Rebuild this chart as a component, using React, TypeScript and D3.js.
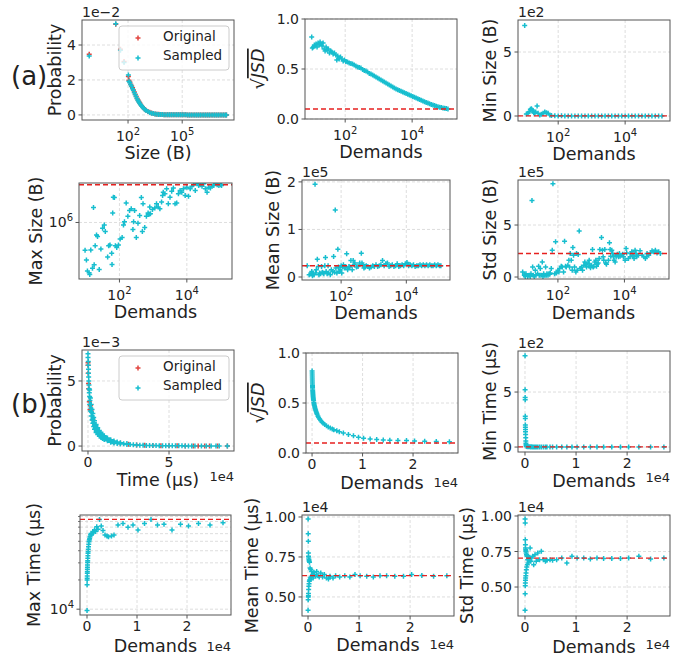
import React from 'react';
import * as d3 from 'd3';

// ---------- (a) size trace ----------
// log10 of request size in bytes, with probability of the original and sampled trace
const sizeLog10 = [
  -0.15, 1.32, 1.58, 1.78, 2.02,
  2.05, 2.1, 2.15, 2.2, 2.25, 2.3, 2.35, 2.4, 2.45, 2.5, 2.55, 2.6, 2.65, 2.7, 2.75, 2.8, 2.85, 2.9, 2.95, 3.0,
  3.1, 3.2, 3.3, 3.4, 3.5, 3.6, 3.7, 3.8, 3.9, 4.0,
  4.1, 4.2, 4.3, 4.4, 4.5, 4.6, 4.7, 4.8, 4.9, 5.0, 5.1, 5.2, 5.3, 5.4, 5.5, 5.6, 5.7, 5.8, 5.9, 6.0,
  6.1, 6.2, 6.3, 6.4, 6.5, 6.6, 6.7, 6.8, 6.9, 7.0, 7.1, 7.2, 7.3, 7.4, 7.45,
];
const sizeProbOriginal = [
  0.0347, 0.0518, 0.0375, 0.0305, 0.0220,
  0.0198, 0.0188, 0.0176, 0.0166, 0.0155, 0.0143, 0.0131, 0.0119, 0.0107, 0.0096, 0.0086, 0.0077, 0.0068, 0.0060, 0.0053, 0.0047, 0.0041, 0.0036, 0.0031, 0.0027,
  0.0020, 0.0015, 0.0011, 0.0008, 0.0006, 0.00045, 0.00035, 0.00025, 0.0002, 0.00015,
  0.00012, 0.0001, 0.00009, 0.00008, 0.00007, 0.00006, 0.00006, 0.00005, 0.00005, 0.00004, 0.00004, 0.00004, 0.00003, 0.00003, 0.00003, 0.00003, 0.00002, 0.00002, 0.00002, 0.00002,
  0.00002, 0.00002, 0.00001, 0.00001, 0.00001, 0.00001, 0.00001, 0.00001, 0.00001, 0.00001, 0.00001, 0.00001, 0.00001, 0.00001, 0.00001,
];
const sizeProbSampled = [
  0.0337, 0.0522, 0.0370, 0.0300, 0.0228,
  0.0192, 0.0184, 0.0172, 0.0162, 0.0150, 0.0140, 0.0127, 0.0115, 0.0104, 0.0093, 0.0083, 0.0074, 0.0066, 0.0058, 0.0051, 0.0045, 0.0039, 0.0034, 0.0030, 0.0026,
  0.0019, 0.0014, 0.0010, 0.0008, 0.0006, 0.0004, 0.0003, 0.00025, 0.0002, 0.00015,
  0.00012, 0.0001, 0.00009, 0.00008, 0.00007, 0.00006, 0.00006, 0.00005, 0.00005, 0.00004, 0.00004, 0.00004, 0.00003, 0.00003, 0.00003, 0.00003, 0.00002, 0.00002, 0.00002, 0.00002,
  0.00002, 0.00002, 0.00001, 0.00001, 0.00001, 0.00001, 0.00001, 0.00001, 0.00001, 0.00001, 0.00001, 0.00001, 0.00001, 0.00001, 0.00001,
];

// sqrt(JSD) against log10(demands)
const jsdSizeDemandLog10 = [
  1.0, 1.02, 1.05, 1.08, 1.1, 1.13, 1.16, 1.19, 1.22, 1.25, 1.28, 1.31, 1.34, 1.37, 1.4, 1.43, 1.46, 1.5, 1.53, 1.57,
  1.6, 1.64, 1.68, 1.72, 1.75, 1.78, 1.82, 1.86, 1.9, 1.94, 1.98,
  2.02, 2.07, 2.12, 2.17, 2.22, 2.27, 2.32, 2.37, 2.42, 2.47, 2.52, 2.57, 2.62, 2.67, 2.72, 2.77, 2.82, 2.87, 2.92, 2.97,
  3.02, 3.07, 3.12, 3.17, 3.22, 3.27, 3.32, 3.37, 3.42, 3.47, 3.52, 3.57, 3.62, 3.67, 3.72, 3.77, 3.82, 3.87, 3.92, 3.97,
  4.02, 4.07, 4.12, 4.17, 4.22, 4.27, 4.32, 4.37, 4.42, 4.47, 4.52, 4.57, 4.62, 4.67, 4.72, 4.77, 4.82, 4.87, 4.92, 4.97,
  5.02, 5.07,
];
const jsdSize = [
  0.82, 0.71, 0.72, 0.74, 0.73, 0.75, 0.72, 0.76, 0.74, 0.77, 0.75, 0.73, 0.76, 0.70, 0.68, 0.72, 0.69, 0.70, 0.66, 0.68,
  0.67, 0.65, 0.66, 0.64, 0.59, 0.63, 0.60, 0.62, 0.60, 0.58, 0.59,
  0.575, 0.57, 0.56, 0.555, 0.55, 0.54, 0.53, 0.52, 0.515, 0.51, 0.495, 0.485, 0.48, 0.47, 0.455, 0.45, 0.44, 0.43, 0.42, 0.41,
  0.40, 0.39, 0.38, 0.37, 0.36, 0.35, 0.34, 0.33, 0.32, 0.31, 0.30, 0.292, 0.285, 0.277, 0.27, 0.262, 0.255, 0.247, 0.24, 0.232,
  0.225, 0.217, 0.21, 0.202, 0.195, 0.188, 0.18, 0.173, 0.166, 0.16, 0.153, 0.146, 0.14, 0.134, 0.128, 0.123, 0.118, 0.114, 0.11, 0.107,
  0.104, 0.1,
];

// Min size (B) against log10(demands)
const minSizeDemandLog10 = [
  1.0, 1.05, 1.1, 1.13, 1.17, 1.2, 1.23, 1.27, 1.3, 1.33, 1.37, 1.4, 1.45, 1.5, 1.55, 1.6, 1.65, 1.7, 1.75,
  1.8, 1.9, 2.0, 2.1, 2.2, 2.3, 2.4, 2.5, 2.6, 2.7, 2.8, 2.9, 3.0, 3.1, 3.2, 3.3, 3.4, 3.5, 3.6, 3.7,
  3.8, 3.9, 4.0, 4.1, 4.2, 4.3, 4.4, 4.5, 4.6, 4.7, 4.8, 4.9, 5.0, 5.1,
];
const minSize = [
  707, 16, 21, 34, 52, 57, 47, 26, 21, 31, 78, 21, 8, 14, 21, 31, 26, 21, 8,
  3, 2, 1, 2, 1, 1, 1, 1, 1, 1, 1, 1, 1, 1, 1, 1, 1, 1, 1, 1,
  1, 1, 1, 1, 1, 1, 1, 1, 1, 1, 1, 1, 1, 1,
];

// Max size: [log10(demands), log10(bytes)]
const maxSizePoints = [
  [0.98, 5.33], [1.02, 5.10], [1.05, 4.83], [1.10, 4.79], [1.12, 4.75], [1.15, 5.34], [1.20, 4.90], [1.23, 6.36],
  [1.25, 4.98], [1.28, 5.44], [1.32, 5.70], [1.35, 5.66], [1.40, 4.87], [1.45, 5.36], [1.50, 5.86], [1.55, 5.94],
  [1.58, 5.78], [1.65, 5.17], [1.68, 5.44], [1.72, 5.46], [1.77, 5.26], [1.78, 4.99], [1.80, 6.23], [1.82, 6.61],
  [1.85, 6.60], [1.88, 5.44], [1.92, 5.40], [1.97, 5.46], [2.02, 5.60], [2.08, 5.64], [2.12, 5.94], [2.15, 6.02],
  [2.20, 6.47], [2.25, 6.15], [2.30, 6.29], [2.35, 6.33], [2.40, 5.83], [2.42, 6.02], [2.45, 6.29], [2.50, 5.64],
  [2.55, 5.98], [2.60, 6.17], [2.65, 6.60], [2.68, 5.78], [2.70, 6.45], [2.75, 5.88], [2.80, 6.15], [2.85, 6.23],
  [2.88, 6.20], [2.90, 6.37], [2.92, 6.21], [2.98, 6.31], [3.05, 6.35], [3.10, 6.45], [3.15, 6.37], [3.20, 6.33],
  [3.25, 6.49], [3.28, 6.65], [3.30, 6.73], [3.35, 6.69], [3.40, 6.81], [3.45, 6.45], [3.50, 6.61], [3.55, 6.75],
  [3.60, 6.83], [3.65, 6.45], [3.70, 6.47], [3.75, 6.69], [3.80, 6.77], [3.85, 6.73], [3.90, 6.81], [3.95, 6.65],
  [4.00, 6.85], [4.05, 6.63], [4.10, 6.81], [4.15, 6.87], [4.20, 6.91], [4.25, 6.77], [4.30, 6.93], [4.35, 6.89],
  [4.40, 6.91], [4.45, 6.87], [4.50, 6.93], [4.55, 6.81], [4.60, 6.73], [4.65, 6.85], [4.70, 6.83], [4.75, 6.87],
  [4.80, 6.89], [4.85, 6.93], [4.90, 6.91], [4.95, 6.89], [5.00, 6.91], [5.03, 6.89],
];

// Mean size: [log10(demands), bytes]
const meanSizePoints = [
  [0.96, 23700], [1.02, 4900], [1.07, 7000], [1.10, 11800], [1.12, 2800], [1.15, 8400], [1.17, 4900], [1.20, 195000],
  [1.22, 8400], [1.24, 15300], [1.27, 37600], [1.30, 22300], [1.32, 4900], [1.34, 8400], [1.37, 7000], [1.40, 22300],
  [1.42, 9800], [1.45, 8400], [1.47, 7000], [1.50, 23700], [1.52, 41100], [1.54, 11800], [1.57, 7000], [1.60, 23700],
  [1.62, 8400], [1.67, 4900], [1.70, 15300], [1.74, 11800], [1.77, 43200], [1.80, 9800], [1.82, 140800], [1.84, 18800],
  [1.87, 8400], [1.90, 58500], [1.92, 20900], [1.94, 11800], [1.97, 15300], [2.00, 23700], [2.02, 8400], [2.04, 22300],
  [2.07, 25800], [2.10, 18800], [2.14, 22300], [2.17, 48800], [2.20, 15300], [2.24, 22300], [2.27, 20900], [2.30, 34800],
  [2.34, 15300], [2.37, 34800], [2.40, 25800], [2.42, 29300], [2.47, 20900], [2.52, 22300], [2.57, 29300], [2.62, 50200],
  [2.64, 29300], [2.67, 25800], [2.70, 18800], [2.74, 20900], [2.77, 23700], [2.82, 22300], [2.87, 18800], [2.92, 20900],
  [2.97, 23700], [3.02, 22300], [3.07, 25800], [3.12, 22300], [3.17, 23700], [3.22, 25800], [3.27, 34800], [3.32, 23700],
  [3.37, 27900], [3.42, 29300], [3.47, 22300], [3.52, 23700], [3.57, 25800], [3.62, 22300], [3.67, 23700], [3.72, 27900],
  [3.77, 22300], [3.82, 23700], [3.87, 25800], [3.92, 23700], [3.97, 27900], [4.02, 30700], [4.07, 23700], [4.12, 25800],
  [4.17, 23700], [4.22, 25800], [4.27, 22300], [4.32, 23700], [4.37, 23700], [4.42, 25800], [4.47, 23700], [4.52, 25800],
  [4.57, 23700], [4.62, 25800], [4.67, 23700], [4.72, 25800], [4.77, 23700], [4.82, 23700], [4.87, 25800], [4.92, 23700],
  [4.97, 25800], [5.02, 23700], [5.06, 23700],
];

// Std size: [log10(demands), bytes]
const stdSizePoints = [
  [0.94, 48000], [0.99, 16000], [1.02, 6000], [1.04, 32000], [1.09, 6000], [1.14, 16000], [1.17, 6000], [1.19, 32000],
  [1.22, 735000], [1.24, 97000], [1.26, 16000], [1.29, 6000], [1.32, 65000], [1.34, 16000], [1.39, 32000], [1.42, 103000],
  [1.44, 16000], [1.47, 81000], [1.49, 16000], [1.53, 145000], [1.55, 6000], [1.57, 32000], [1.60, 16000], [1.63, 97000],
  [1.65, 16000], [1.67, 32000], [1.70, 16000], [1.73, 32000], [1.75, 26000], [1.77, 39000], [1.80, 81000], [1.83, 258000],
  [1.85, 897000], [1.90, 32000], [1.93, 339000], [1.95, 39000], [1.97, 48000], [2.00, 65000], [2.03, 48000], [2.05, 81000],
  [2.10, 103000], [2.13, 97000], [2.17, 48000], [2.20, 345000], [2.23, 103000], [2.25, 97000], [2.30, 113000], [2.33, 161000],
  [2.35, 97000], [2.37, 226000], [2.40, 161000], [2.43, 65000], [2.45, 284000], [2.47, 210000], [2.50, 97000], [2.54, 48000],
  [2.56, 226000], [2.58, 65000], [2.61, 216000], [2.64, 442000], [2.68, 81000], [2.71, 97000], [2.74, 65000], [2.78, 113000],
  [2.81, 145000], [2.84, 123000], [2.86, 97000], [2.91, 129000], [2.94, 161000], [2.96, 103000], [2.98, 90000], [3.01, 113000],
  [3.04, 265000], [3.06, 97000], [3.08, 103000], [3.11, 145000], [3.14, 161000], [3.16, 103000], [3.18, 123000], [3.21, 135000],
  [3.24, 177000], [3.26, 265000], [3.31, 381000], [3.34, 258000], [3.36, 194000], [3.38, 161000], [3.41, 265000], [3.44, 135000],
  [3.46, 123000], [3.52, 161000], [3.55, 329000], [3.57, 265000], [3.59, 200000], [3.62, 258000], [3.65, 226000], [3.67, 194000],
  [3.69, 161000], [3.72, 145000], [3.75, 194000], [3.77, 210000], [3.79, 219000], [3.82, 194000], [3.85, 226000], [3.87, 200000],
  [3.92, 210000], [3.95, 219000], [3.97, 194000], [4.02, 161000], [4.05, 274000], [4.07, 232000], [4.12, 177000], [4.17, 194000],
  [4.19, 226000], [4.22, 242000], [4.25, 210000], [4.27, 200000], [4.29, 177000], [4.32, 258000], [4.35, 226000], [4.37, 194000],
  [4.42, 210000], [4.47, 252000], [4.53, 210000], [4.58, 194000], [4.63, 177000], [4.66, 194000], [4.68, 226000], [4.73, 210000],
  [4.78, 232000], [4.83, 252000], [4.88, 242000], [4.93, 258000], [4.98, 232000], [5.03, 242000], [5.08, 226000],
];

// ---------- (b) time trace ----------
// [time µs, probability]
const timeOriginalPts = [
  [0, 0.0064], [0, 0.0062], [100, 0.0056], [300, 0.0048], [400, 0.0044], [800, 0.0034], [1200, 0.0028], [1500, 0.0031],
  [2000, 0.0027], [3000, 0.002], [4000, 0.0016], [5000, 0.0013], [6000, 0.0011], [8000, 0.00085], [10000, 0.00065],
  [12000, 0.0005], [14000, 0.00038], [16000, 0.0003], [20000, 0.00021], [25000, 0.00014], [30000, 0.00008], [35000, 0.000055],
  [40000, 0.00004], [45000, 0.00003], [50000, 0.00002], [55000, 0.000017], [60000, 0.000012], [65000, 0.00001],
  [68000, 0.000008], [72000, 0.000005], [75000, 0.000005], [80000, 0.000004], [86000, 0.000003],
];
const timeSampledPts = [
  [0, 0.0071], [0, 0.0068], [200, 0.0065], [200, 0.0062], [300, 0.0059], [300, 0.0056], [400, 0.0053], [500, 0.0050],
  [600, 0.0047], [700, 0.0044], [800, 0.0041], [1000, 0.0038], [1200, 0.0035], [1500, 0.0032], [1800, 0.0029], [2200, 0.0026],
  [2600, 0.0023], [3000, 0.00205], [3500, 0.0018], [4000, 0.00155], [4500, 0.0014], [5000, 0.0013], [5500, 0.00118],
  [6000, 0.0011], [7000, 0.00097], [8000, 0.00085], [9000, 0.00075], [10000, 0.00065], [11000, 0.00057], [12000, 0.0005],
  [13000, 0.00043], [14000, 0.00038], [15000, 0.00034], [16000, 0.0003], [18000, 0.00025], [20000, 0.00021], [22000, 0.00018],
  [24000, 0.00015], [26000, 0.00012], [28000, 0.0001], [30000, 0.00008], [32000, 0.00007], [34000, 0.00006], [36000, 0.00005],
  [38000, 0.000045], [40000, 0.00004], [42000, 0.000035], [44000, 0.00003], [46000, 0.00003], [48000, 0.000025],
  [50000, 0.00002], [52000, 0.00002], [54000, 0.00002], [56000, 0.000015], [58000, 0.000015], [60000, 0.00001],
  [62000, 0.00001], [64000, 0.00001], [66000, 0.00001], [70000, 0.000005], [73000, 0.000005], [76000, 0.000005],
  [79000, 0.000005], [81000, 0.000005], [86000, 0.000003],
  [1000, 0.0043], [1500, 0.0037], [2000, 0.0032], [2500, 0.0028], [3000, 0.0025], [3500, 0.0022], [4000, 0.00195],
  [5000, 0.00165], [6000, 0.0014], [7000, 0.0012], [8000, 0.00105], [9000, 0.00092], [10000, 0.0008], [12000, 0.00062],
  [14000, 0.00048], [16000, 0.00038], [18000, 0.00031], [20000, 0.00026], [24000, 0.00019],
  [1000, 0.0032], [1500, 0.0027], [2000, 0.0023], [2500, 0.002], [3000, 0.00175], [3500, 0.0015], [4000, 0.0013],
  [5000, 0.00105], [6000, 0.00088], [7000, 0.00076], [8000, 0.00066], [9000, 0.00058], [10000, 0.0005], [12000, 0.0004],
  [14000, 0.0003], [16000, 0.00024], [18000, 0.0002], [20000, 0.00016], [24000, 0.00011],
];

// demands at which the time metrics were evaluated
const timeDemands = [
  10, 20, 30, 40, 50, 60, 70, 80, 90, 100, 120, 140, 160, 180, 200, 230, 260, 300, 350, 400, 460, 530, 610, 700, 800, 900,
  1000, 1150, 1300, 1500, 1700, 1950, 2200, 2500, 2850, 3200, 3600, 4000,
  4300, 4900, 5400, 6200, 7200, 8200, 9200, 10200, 11500, 12800, 14100, 15400, 17000, 18700, 20300, 22300, 24600, 27200,
];
const jsdTime = [
  0.82, 0.80, 0.78, 0.76, 0.74, 0.72, 0.70, 0.68, 0.665, 0.65, 0.63, 0.615, 0.60, 0.585, 0.57, 0.555, 0.54, 0.525, 0.505, 0.49, 0.475, 0.46, 0.445, 0.43, 0.415, 0.40,
  0.387, 0.37, 0.355, 0.34, 0.325, 0.31, 0.297, 0.285, 0.272, 0.26, 0.25, 0.24,
  0.233, 0.222, 0.212, 0.199, 0.184, 0.172, 0.158, 0.147, 0.141, 0.135, 0.131, 0.128, 0.125, 0.124, 0.121, 0.118, 0.115, 0.113,
];
const minTime = [
  830, 520, 450, 430, 280, 260, 200, 180, 160, 140, 115, 85, 55, 35, 20, 12, 8, 6, 5, 4, 3, 3, 2, 2, 2, 2,
  2, 1, 2, 1, 1, 1, 1, 1, 1, 1, 1, 1,
  1, 1, 1, 1, 1, 1, 1, 1, 1, 1, 1, 1, 1, 1, 1, 1, 1, 1,
];
const maxTime = [
  9700, 17800, 20000, 20800, 22000, 23400, 24400, 25800, 27000, 28500, 30200, 31600, 33400, 35400, 37600, 39200, 41500, 44000, 46600, 49500, 51500, 53600, 55700, 58000, 60300, 58000,
  60300, 63000, 61500, 65300, 63000, 70700, 66500, 84100, 71800, 64500, 58100, 56600,
  55700, 56600, 58100, 73500, 76500, 69600, 73500, 65300, 76500, 84100, 73500, 75000, 65300, 75000, 71800, 76500, 73500, 77800,
];
const meanTime = [
  4170, 9880, 4830, 8960, 5000, 8480, 5080, 7750, 5210, 7540, 5460, 7440, 5670, 7330, 5830, 7230, 5980, 7170, 6080, 6810, 6190, 6710, 6250, 6600, 6330, 6400,
  6190, 6540, 6400, 6290, 6600, 6330, 6250, 6500, 6250, 6400, 6190, 6130,
  6290, 6190, 6330, 6250, 6330, 6250, 6400, 6330, 6290, 6250, 6330, 6330, 6290, 6290, 6400, 6350, 6290, 6330,
];
const stdTime = [
  3360, 9790, 4530, 9510, 5090, 8330, 5280, 7980, 5470, 7750, 5630, 7630, 5800, 7510, 5990, 7390, 6220, 7280, 6410, 7160, 6570, 6920, 6690, 7040, 6810, 7100,
  7750, 6810, 7040, 7160, 6570, 7280, 6810, 7390, 6920, 7510, 6920, 6810,
  6880, 6920, 6880, 6920, 7040, 6690, 7160, 7040, 7040, 6970, 7040, 7000, 7000, 7000, 7040, 7160, 6970, 7040,
];

// reference (full trace) values, drawn as dashed lines
const refJsd = 0.1;
const refMinSize = 1;
const refMaxSize = 8.1e6;
const refMeanSize = 23700;
const refStdSize = 226000;
const refMinTime = 1;
const refMaxTime = 84000;
const refMeanTime = 6330;
const refStdTime = 7040;

const FONT = '"DejaVu Sans", sans-serif';
const CYAN = '#17becf';
const ORIG = '#e2453f';
const REF = '#e6201f';
const SPINE = '#555555';
const GRID = '#d6d6d6';

type Tick = { v: number; label: string; sup?: string };
type Series = { xs: number[]; ys: number[]; color: string };
type PanelDef = {
  box: [number, number, number, number];
  x: any;
  y: any;
  xTicks: Tick[];
  yTicks: Tick[];
  yMinor?: number[];
  xLabel: string;
  yLabel: string;
  sqrtLabel?: boolean;
  yLabelX: number;
  xLabelDy: number;
  xOffset?: string;
  xOffsetDy?: number;
  yOffset?: string;
  series: Series[];
  refLine?: number;
  legend?: boolean;
};

const pow10 = (a: number[]) => a.map((v) => 10 ** v);
const col = (pts: number[][], i: number) => pts.map((p) => p[i]);
const logTicks = (ks: number[]): Tick[] => ks.map((k) => ({ v: 10 ** k, label: '10', sup: String(k) }));
const linTicks = (vs: number[], f: (v: number) => string): Tick[] => vs.map((v) => ({ v, label: f(v) }));
const demandLog = d3.scaleLog().domain([10 ** 0.8, 10 ** 5.34]);

const panels: PanelDef[] = [
  {
    box: [82, 20, 234, 120],
    x: d3.scaleLog().domain([10 ** -0.55, 10 ** 7.87]),
    y: d3.scaleLinear().domain([-0.0029, 0.0543]),
    xTicks: logTicks([2, 5]),
    yTicks: linTicks([0, 0.02, 0.04], (v) => String(Math.round(v * 100))),
    xLabel: 'Size (B)', yLabel: 'Probability', yLabelX: 55, xLabelDy: 39,
    yOffset: '1e\u22122',
    series: [
      { xs: pow10(sizeLog10), ys: sizeProbOriginal, color: ORIG },
      { xs: pow10(sizeLog10), ys: sizeProbSampled, color: CYAN },
    ],
    legend: true,
  },
  {
    box: [305, 19, 457, 119],
    x: demandLog,
    y: d3.scaleLinear().domain([0, 1]),
    xTicks: logTicks([2, 4]),
    yTicks: linTicks([0, 0.5, 1], (v) => v.toFixed(1)),
    xLabel: 'Demands', yLabel: 'JSD', sqrtLabel: true, yLabelX: 258, xLabelDy: 39,
    series: [{ xs: pow10(jsdSizeDemandLog10), ys: jsdSize, color: CYAN }],
    refLine: refJsd,
  },
  {
    box: [518, 20, 670, 121],
    x: demandLog,
    y: d3.scaleLinear().domain([-39, 750]),
    xTicks: logTicks([2, 4]),
    yTicks: linTicks([0, 500], (v) => String(v / 100)),
    xLabel: 'Demands', yLabel: 'Min Size (B)', yLabelX: 490, xLabelDy: 39,
    yOffset: '1e2',
    series: [{ xs: pow10(minSizeDemandLog10), ys: minSize, color: CYAN }],
    refLine: refMinSize,
  },
  {
    box: [79, 183, 232, 279],
    x: demandLog,
    y: d3.scaleLog().domain([10 ** 4.64, 10 ** 6.95]),
    xTicks: logTicks([2, 4]),
    yTicks: logTicks([6]),
    xLabel: 'Demands', yLabel: 'Max Size (B)', yLabelX: 36, xLabelDy: 39,
    series: [{ xs: pow10(col(maxSizePoints, 0)), ys: pow10(col(maxSizePoints, 1)), color: CYAN }],
    refLine: refMaxSize,
  },
  {
    box: [302, 180, 450, 280],
    x: demandLog,
    y: d3.scaleLinear().domain([-6300, 204000]),
    xTicks: logTicks([2, 4]),
    yTicks: linTicks([0, 100000, 200000], (v) => String(v / 1e5)),
    xLabel: 'Demands', yLabel: 'Mean Size (B)', yLabelX: 273, xLabelDy: 39,
    yOffset: '1e5',
    series: [{ xs: pow10(col(meanSizePoints, 0)), ys: col(meanSizePoints, 1), color: CYAN }],
    refLine: refMeanSize,
  },
  {
    box: [518, 180, 669, 279],
    x: demandLog,
    y: d3.scaleLinear().domain([-19000, 933000]),
    xTicks: logTicks([2, 4]),
    yTicks: linTicks([0, 500000], (v) => String(v / 1e5)),
    xLabel: 'Demands', yLabel: 'Std Size (B)', yLabelX: 490, xLabelDy: 40,
    yOffset: '1e5',
    series: [{ xs: pow10(col(stdSizePoints, 0)), ys: col(stdSizePoints, 1), color: CYAN }],
    refLine: refStdSize,
  },
  {
    box: [82, 350, 234, 451],
    x: d3.scaleLinear().domain([-3700, 90100]),
    y: d3.scaleLinear().domain([-0.00038, 0.00738]),
    xTicks: linTicks([0, 50000], (v) => String(v / 1e4)),
    yTicks: linTicks([0, 0.005], (v) => String(Math.round(v * 1000))),
    xLabel: 'Time (\u00b5s)', yLabel: 'Probability', yLabelX: 55, xLabelDy: 35,
    xOffset: '1e4', xOffsetDy: 30,
    yOffset: '1e\u22123',
    series: [
      { xs: col(timeOriginalPts, 0), ys: col(timeOriginalPts, 1), color: ORIG },
      { xs: col(timeSampledPts, 0), ys: col(timeSampledPts, 1), color: CYAN },
    ],
    legend: true,
  },
  {
    box: [306, 353, 458, 453],
    x: d3.scaleLinear().domain([-1200, 28900]),
    y: d3.scaleLinear().domain([0, 1]),
    xTicks: linTicks([0, 10000, 20000], (v) => String(v / 1e4)),
    yTicks: linTicks([0, 0.5, 1], (v) => v.toFixed(1)),
    xLabel: 'Demands', yLabel: 'JSD', sqrtLabel: true, yLabelX: 258, xLabelDy: 36,
    xOffset: '1e4', xOffsetDy: 34,
    series: [{ xs: timeDemands, ys: jsdTime, color: CYAN }],
    refLine: refJsd,
  },
  {
    box: [518, 351, 670, 452],
    x: d3.scaleLinear().domain([-1370, 28400]),
    y: d3.scaleLinear().domain([-45, 873]),
    xTicks: linTicks([0, 10000, 20000], (v) => String(v / 1e4)),
    yTicks: linTicks([0, 500], (v) => String(v / 100)),
    xLabel: 'Demands', yLabel: 'Min Time (\u00b5s)', yLabelX: 490, xLabelDy: 35,
    xOffset: '1e4', xOffsetDy: 30,
    yOffset: '1e2',
    series: [{ xs: timeDemands, ys: minTime, color: CYAN }],
    refLine: refMinTime,
  },
  {
    box: [80, 515, 231, 615],
    x: d3.scaleLinear().domain([-1400, 28800]),
    y: d3.scaleLog().domain([10 ** 3.94, 10 ** 4.97]),
    xTicks: linTicks([0, 10000, 20000], (v) => String(v / 1e4)),
    yTicks: logTicks([4]),
    yMinor: [20000, 30000, 40000, 50000, 60000, 70000, 80000, 90000],
    xLabel: 'Demands', yLabel: 'Max Time (\u00b5s)', yLabelX: 34, xLabelDy: 37,
    xOffset: '1e4', xOffsetDy: 36,
    series: [{ xs: timeDemands, ys: maxTime, color: CYAN }],
    refLine: refMaxTime,
  },
  {
    box: [302, 515, 454, 616],
    x: d3.scaleLinear().domain([-1180, 28600]),
    y: d3.scaleLinear().domain([3810, 10125]),
    xTicks: linTicks([0, 10000, 20000], (v) => String(v / 1e4)),
    yTicks: linTicks([5000, 7500, 10000], (v) => (v / 1e4).toFixed(2)),
    xLabel: 'Demands', yLabel: 'Mean Time (\u00b5s)', yLabelX: 252, xLabelDy: 35,
    xOffset: '1e4', xOffsetDy: 33,
    yOffset: '1e4',
    series: [{ xs: timeDemands, ys: meanTime, color: CYAN }],
    refLine: refMeanTime,
  },
  {
    box: [518, 515, 670, 616],
    x: d3.scaleLinear().domain([-1370, 28400]),
    y: d3.scaleLinear().domain([2960, 10070]),
    xTicks: linTicks([0, 10000, 20000], (v) => String(v / 1e4)),
    yTicks: linTicks([5000, 7500, 10000], (v) => (v / 1e4).toFixed(2)),
    xLabel: 'Demands', yLabel: 'Std Time (\u00b5s)', yLabelX: 467, xLabelDy: 37,
    xOffset: '1e4', xOffsetDy: 33,
    yOffset: '1e4',
    series: [{ xs: timeDemands, ys: stdTime, color: CYAN }],
    refLine: refStdTime,
  },
];

function plusPath(xs: number[], ys: number[], sx: any, sy: any, r = 2.5) {
  let d = '';
  xs.forEach((v, i) => {
    const px = sx(v);
    const py = sy(ys[i]);
    d += `M${px - r},${py}h${2 * r}M${px},${py - r}v${2 * r}`;
  });
  return d;
}

function Panel({ p, id }: { p: PanelDef; id: number }) {
  const [l, t, r, b] = p.box;
  const x = p.x.copy().range([l, r]);
  const y = p.y.copy().range([b, t]);
  const clip = `clip-${id}`;
  const cx = (l + r) / 2;
  const cy = (t + b) / 2;
  const gridY = [...p.yTicks.map((tk) => tk.v), ...(p.yMinor || [])];

  return (
    <g>
      <defs>
        <clipPath id={clip}>
          <rect x={l} y={t} width={r - l} height={b - t} />
        </clipPath>
      </defs>
      <g stroke={GRID} strokeWidth={0.8} strokeDasharray="3,2">
        {p.xTicks.map((tk, i) => (
          <line key={'gx' + i} x1={x(tk.v)} x2={x(tk.v)} y1={t} y2={b} />
        ))}
        {gridY.map((v, i) => (
          <line key={'gy' + i} x1={l} x2={r} y1={y(v)} y2={y(v)} />
        ))}
      </g>
      <g clipPath={`url(#${clip})`}>
        {p.series.map((s, i) => (
          <path key={i} d={plusPath(s.xs, s.ys, x, y)} stroke={s.color} strokeWidth={1.5} fill="none" />
        ))}
        {p.refLine !== undefined && (
          <line x1={l} x2={r} y1={y(p.refLine)} y2={y(p.refLine)} stroke={REF} strokeWidth={1.3} strokeDasharray="5,3" />
        )}
      </g>
      <rect x={l} y={t} width={r - l} height={b - t} fill="none" stroke={SPINE} strokeWidth={1} />

      {/* x ticks */}
      {p.xTicks.map((tk, i) => (
        <g key={'xt' + i}>
          <line x1={x(tk.v)} x2={x(tk.v)} y1={b} y2={b + 3.5} stroke={SPINE} />
          <text x={x(tk.v)} y={b + (tk.sup ? 21 : 16)} textAnchor="middle" fontSize={14} fill="#222">
            {tk.label}
            {tk.sup && (
              <tspan dy={-6} fontSize={10}>
                {tk.sup}
              </tspan>
            )}
          </text>
        </g>
      ))}
      {/* y ticks */}
      {p.yTicks.map((tk, i) => (
        <g key={'yt' + i}>
          <line x1={l - 3.5} x2={l} y1={y(tk.v)} y2={y(tk.v)} stroke={SPINE} />
          <text x={l - 6} y={y(tk.v) + 5} textAnchor="end" fontSize={14} fill="#222">
            {tk.label}
            {tk.sup && (
              <tspan dy={-6} fontSize={10}>
                {tk.sup}
              </tspan>
            )}
          </text>
        </g>
      ))}
      {(p.yMinor || []).map((v, i) => (
        <line key={'ym' + i} x1={l - 2} x2={l} y1={y(v)} y2={y(v)} stroke={SPINE} strokeWidth={0.8} />
      ))}

      {p.yOffset && (
        <text x={l} y={t - 3} fontSize={14} fill="#222">
          {p.yOffset}
        </text>
      )}
      {p.xOffset && (
        <text x={r} y={b + (p.xOffsetDy || 30)} textAnchor="end" fontSize={13} fill="#222">
          {p.xOffset}
        </text>
      )}

      <text x={cx} y={b + p.xLabelDy} textAnchor="middle" fontSize={17.5} fill="#222">
        {p.xLabel}
      </text>
      <text
        transform={`translate(${p.yLabelX},${cy}) rotate(-90)`}
        textAnchor="middle"
        dominantBaseline="central"
        fontSize={17.5}
        fill="#222"
      >
        {p.sqrtLabel ? (
          <>
            {'\u221a'}
            <tspan fontStyle="italic" textDecoration="overline">
              {p.yLabel}
            </tspan>
          </>
        ) : (
          p.yLabel
        )}
      </text>

      {p.legend && (
        <g>
          <rect x={l + 37} y={t + 6} width={110} height={44} rx={3} fill="#fff" fillOpacity={0.8} stroke="#cccccc" />
          <path d={plusPath([0], [0], (v: number) => l + 56 + v, (v: number) => t + 18 + v)} stroke={ORIG} strokeWidth={1.5} />
          <path d={plusPath([0], [0], (v: number) => l + 56 + v, (v: number) => t + 38 + v)} stroke={CYAN} strokeWidth={1.5} />
          <text x={l + 81} y={t + 21} fontSize={13.5} fill="#222">
            Original
          </text>
          <text x={l + 81} y={t + 40} fontSize={13.5} fill="#222">
            Sampled
          </text>
        </g>
      )}
    </g>
  );
}

export default function App() {
  return (
    <svg
      width={692}
      height={661}
      style={{ position: 'absolute', left: 0, top: 0, background: '#fff' }}
      fontFamily={FONT}
    >
      <rect width={692} height={661} fill="#fff" />
      {panels.map((p, i) => (
        <Panel key={i} p={p} id={i} />
      ))}
      <text x={11} y={85} fontSize={26} fill="#222">
        (a)
      </text>
      <text x={11} y={413} fontSize={26} fill="#222">
        (b)
      </text>
    </svg>
  );
}
